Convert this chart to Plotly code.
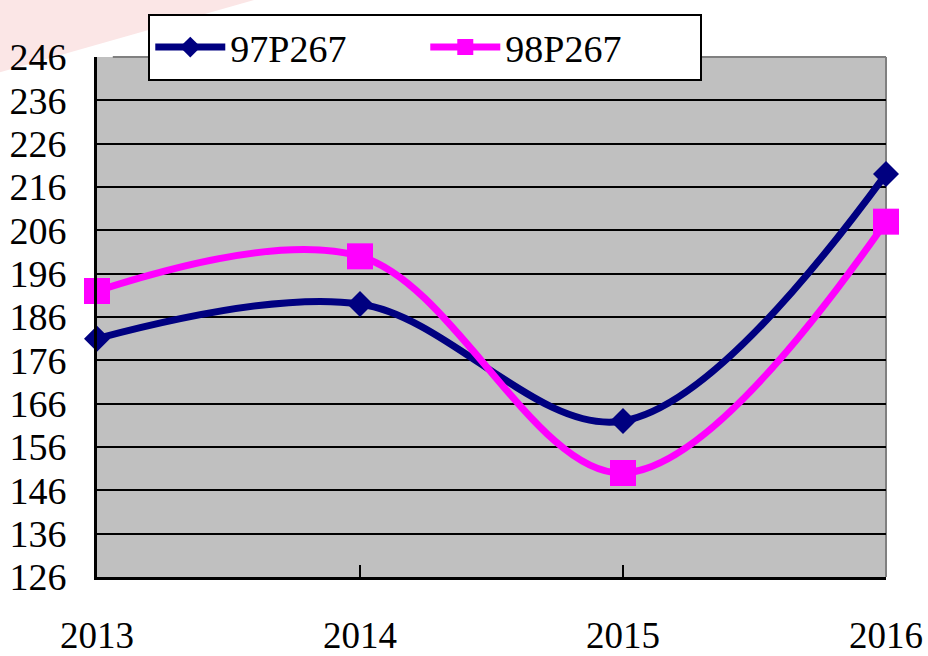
import plotly.graph_objects as go

years = [2013, 2014, 2015, 2016]
year_labels = ["2013", "2014", "2015", "2016"]
s97_name = "97P267"
s97_values = [181, 189, 162, 219]
s98_name = "98P267"
s98_values = [192, 200, 150, 208]
y_ticks = list(range(126, 247, 10))

FONT = "Times New Roman"

fig = go.Figure()
fig.add_trace(go.Scatter(
    x=years, y=s97_values, name=s97_name, mode="lines+markers",
    line=dict(color="#000080", width=7, shape="spline", smoothing=1),
    marker=dict(symbol="diamond", size=20, color="#000080"),
    cliponaxis=False,
))
fig.add_trace(go.Scatter(
    x=years, y=s98_values, name=s98_name, mode="lines+markers",
    line=dict(color="#FF00FF", width=7, shape="spline", smoothing=1),
    marker=dict(symbol="square", size=26, color="#FF00FF"),
    cliponaxis=False,
))

# background decoration (top-left pink band) and plot-area border
fig.add_shape(type="path", xref="paper", yref="paper",
              path="M -0.125 1.11 L 0.2 1.11 L -0.125 0.97 Z",
              fillcolor="#FBE6E6", line=dict(width=0), layer="below")
fig.add_shape(type="line", xref="paper", yref="paper", x0=0.02, x1=1, y0=1, y1=1,
              line=dict(color="#808080", width=2), layer="above")
fig.add_shape(type="line", xref="paper", yref="paper", x0=1, x1=1, y0=0, y1=1,
              line=dict(color="#808080", width=2), layer="below")

fig.update_layout(
    width=928, height=656,
    margin=dict(l=97, r=42, t=57, b=79, autoexpand=False),
    paper_bgcolor="white", plot_bgcolor="#C0C0C0",
    font=dict(family=FONT, size=38, color="black"),
    showlegend=True,
    legend=dict(
        orientation="h", x=0.065, y=1.083, xanchor="left", yanchor="top",
        bgcolor="white", bordercolor="black", borderwidth=2,
        font=dict(family=FONT, size=38, color="black"),
        itemwidth=70,
        entrywidth=190, entrywidthmode="pixels",
    ),
    xaxis=dict(
        range=[2013, 2016], tickvals=years, ticktext=year_labels,
        showgrid=False, zeroline=False, automargin=False,
        showline=True, linecolor="black", linewidth=3,
        ticks="inside", ticklen=12, tickwidth=2, tickcolor="black",
        ticklabelstandoff=24,
        tickfont=dict(family=FONT, size=37, color="black"),
    ),
    yaxis=dict(
        range=[126, 246], tickvals=y_ticks,
        showgrid=True, gridcolor="black", gridwidth=2, zeroline=False, automargin=False,
        showline=True, linecolor="black", linewidth=3,
        ticks="inside", ticklen=14, tickwidth=2, tickcolor="black",
        ticklabelstandoff=20,
        tickfont=dict(family=FONT, size=38, color="black"),
    ),
)

fig.write_html("out.html", config={"displayModeBar": False},
               post_script="document.body.style.margin='0px';")
